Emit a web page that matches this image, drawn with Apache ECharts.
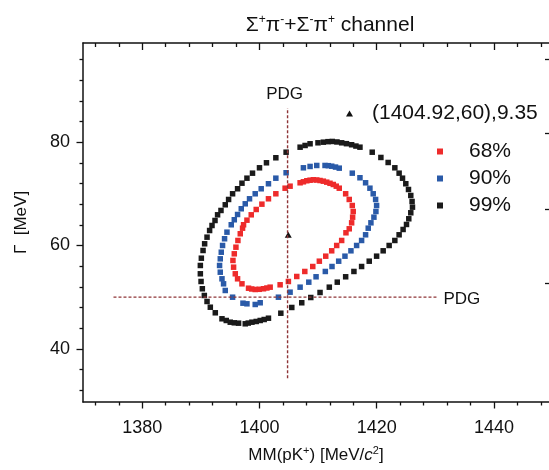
<!DOCTYPE html>
<html>
<head>
<meta charset="utf-8">
<title>Sigma pi channel contours</title>
<script src="https://cdn.jsdelivr.net/npm/echarts@6.0.0/dist/echarts.min.js"></script>
<style>
  html, body { margin: 0; padding: 0; background: #fff; }
  #main { width: 549px; height: 470px; }
</style>
</head>
<body>
<div id="main"></div>
<script>
  var xMin = 1369.9, xMax = 1449.4;
  var yMin = 29.7, yMax = 99.2;
  var xMajor = [1380, 1400, 1420, 1440];
  var xMinor = [1372, 1376, 1384, 1388, 1392, 1396, 1404, 1408, 1412, 1416, 1424, 1428, 1432, 1436, 1444, 1448];
  var yMajor = [40, 60, 80];
  var yMinor = [32, 36, 44, 48, 52, 56, 64, 68, 72, 76, 84, 88, 92, 96];
  var yRightTicks = [52.6, 67.1, 81.8, 96.1];

  // contour points [MeV/c^2, MeV]
  var cl68 = [
    [1404.38, 71.09], [1405.23, 71.48], [1406.94, 72.14], [1407.5, 72.33], [1408.08, 72.53], [1408.64, 72.64],
    [1409.2, 72.72], [1409.78, 72.68], [1410.34, 72.58], [1410.9, 72.45], [1411.48, 72.26], [1412.04, 72.04],
    [1412.6, 71.81], [1413.11, 71.48], [1413.62, 71.09], [1414.71, 70.01], [1415.32, 68.91], [1415.84, 67.74],
    [1416.0, 66.58], [1415.9, 65.48], [1415.73, 64.39], [1415.32, 63.23], [1414.76, 62.46], [1414.03, 60.97],
    [1413.18, 60.0], [1412.33, 58.97], [1411.31, 57.93], [1410.22, 56.96], [1409.1, 55.93], [1407.74, 54.97],
    [1406.37, 54.0], [1404.94, 53.03], [1403.53, 52.39], [1401.83, 51.93], [1401.27, 51.77], [1400.69, 51.62],
    [1399.96, 51.52], [1399.28, 51.48], [1398.68, 51.58], [1398.14, 51.73], [1397.02, 52.58], [1396.27, 53.55],
    [1395.88, 54.52], [1395.59, 55.8], [1395.48, 57.1], [1395.71, 58.39], [1395.99, 59.67], [1396.33, 60.97],
    [1396.73, 62.27], [1397.12, 63.35], [1397.29, 64.01], [1397.87, 64.9], [1398.6, 65.94], [1399.45, 66.97],
    [1400.42, 68.0], [1401.54, 69.04], [1402.8, 70.01]
  ];
  var cl90 = [
    [1404.55, 74.08], [1407.5, 75.04], [1408.64, 75.3], [1409.78, 75.49], [1411.19, 75.49], [1411.75, 75.45],
    [1412.33, 75.35], [1412.98, 75.18], [1413.62, 74.97], [1415.84, 74.0], [1417.15, 73.11], [1418.11, 72.14],
    [1418.85, 71.09], [1419.41, 70.01], [1419.82, 68.91], [1419.99, 67.74], [1419.87, 66.58], [1419.53, 65.48],
    [1419.02, 64.39], [1418.56, 63.35], [1418.11, 62.07], [1417.43, 60.97], [1416.58, 60.0], [1415.61, 58.97],
    [1414.59, 57.93], [1413.52, 56.96], [1412.38, 55.93], [1411.24, 54.97], [1409.66, 53.94], [1408.42, 52.9],
    [1406.94, 51.93], [1405.23, 50.96], [1403.24, 49.99], [1400.13, 48.91], [1399.28, 48.58], [1397.87, 48.71],
    [1397.19, 48.83], [1395.42, 49.99], [1394.17, 51.29], [1393.88, 52.58], [1393.61, 53.55], [1393.32, 54.83],
    [1393.2, 56.13], [1393.32, 57.42], [1393.49, 58.7], [1393.71, 60.0], [1394.05, 61.3], [1394.46, 62.58],
    [1395.19, 64.01], [1395.71, 64.98], [1396.27, 66.0], [1396.9, 67.11], [1397.58, 68.07], [1398.31, 69.04],
    [1399.28, 70.01], [1400.3, 70.98], [1401.54, 71.95], [1402.8, 73.03]
  ];
  var cl99 = [
    [1404.55, 78.06], [1406.94, 79.03], [1407.79, 79.36], [1408.64, 79.69], [1409.99, 79.88], [1410.9, 80.0],
    [1411.7, 80.1], [1412.43, 80.14], [1413.23, 80.04], [1414.03, 79.88], [1414.85, 79.71], [1415.73, 79.5],
    [1416.46, 79.25], [1417.15, 79.03], [1419.24, 78.06], [1420.72, 77.04], [1421.96, 76.07], [1423.1, 75.04],
    [1423.83, 74.0], [1424.41, 73.03], [1424.97, 71.95], [1425.43, 70.84], [1425.82, 69.68], [1426.04, 68.52],
    [1426.11, 67.42], [1425.82, 66.33], [1425.48, 65.17], [1425.09, 64.07], [1424.51, 63.1], [1423.83, 62.07],
    [1423.1, 60.97], [1422.13, 60.0], [1421.11, 58.97], [1419.99, 57.93], [1418.73, 56.96], [1417.43, 55.93],
    [1416.12, 54.97], [1414.71, 53.94], [1413.28, 52.9], [1411.92, 51.93], [1410.34, 50.9], [1408.76, 49.93],
    [1407.22, 48.91], [1405.52, 48.0], [1403.65, 46.89], [1401.54, 45.92], [1400.81, 45.67], [1400.13, 45.48],
    [1399.45, 45.29], [1398.72, 45.15], [1398.09, 44.98], [1397.58, 44.84], [1396.44, 44.96], [1395.71, 45.03],
    [1395.02, 45.15], [1394.34, 45.48], [1393.61, 45.81], [1392.47, 46.97], [1391.62, 48.05], [1391.06, 49.16],
    [1390.6, 50.32], [1390.26, 51.62], [1390.04, 53.03], [1389.92, 54.52], [1389.92, 56.13], [1390.09, 57.54],
    [1390.38, 59.03], [1390.65, 60.33], [1391.06, 61.61], [1391.5, 62.9], [1391.91, 63.87], [1392.42, 64.84],
    [1392.86, 65.94], [1393.44, 66.78], [1394.17, 67.88], [1394.74, 68.91], [1395.42, 70.01], [1396.27, 70.98],
    [1397.02, 72.06], [1397.87, 73.03], [1398.82, 74.0], [1400.01, 75.04], [1401.2, 76.01], [1402.8, 76.98]
  ];
  var bestFit = [[1404.92, 62.1]];
  var pdgMassLine = [[1404.8, 34.3], [1404.8, 86.6]];
  var pdgWidthLine = [[1375.1, 50], [1430.2, 50]];

  var font = 'Liberation Sans, Arial, Helvetica, sans-serif';
  var ink = '#111111';
  var pdgColor = '#8e3436';

  var chart = echarts.init(document.getElementById('main'));

  function tickAxis(pos, isX, values, len, inside, extra) {
    var ax = {
      type: 'value', position: pos, gridIndex: 0,
      min: isX ? xMin : yMin, max: isX ? xMax : yMax,
      axisLine: { show: false },
      axisTick: { show: true, inside: inside, length: len, customValues: values, lineStyle: { color: ink, width: 1.3 } },
      axisLabel: { show: false },
      splitLine: { show: false }
    };
    return Object.assign(ax, extra || {});
  }

  var option = {
    animation: false,
    textStyle: { fontFamily: font, color: ink },
    title: {
      text: '{a|Σ}{s|+}{a|π}{s|-}{a|+Σ}{s|-}{a|π}{s|+}{a| channel}',
      left: 325, top: 9, textAlign: 'center',
      textStyle: {
        fontWeight: 'normal',
        rich: {
          a: { fontSize: 21, fontWeight: 'normal', fontFamily: font, color: ink, lineHeight: 22 },
          s: { fontSize: 12, fontWeight: 'normal', fontFamily: font, color: ink, lineHeight: 16, verticalAlign: 'top' }
        }
      }
    },
    grid: { left: 83, top: 43, width: 467, height: 359, containLabel: false },
    legend: [
      {
        data: ['(1404.92,60),9.35'], left: 346, top: 103, padding: 0,
        itemWidth: 7, itemHeight: 6, selectedMode: false,
        textStyle: { fontSize: 21, fontFamily: font, color: ink, lineHeight: 21, padding: [0, 0, 0, 14] }
      },
      {
        data: ['68%', '90%', '99%'], orient: 'vertical', left: 437, top: 141, padding: 0,
        itemWidth: 6, itemHeight: 6, itemGap: 6, selectedMode: false,
        textStyle: { fontSize: 21, fontFamily: font, color: ink, lineHeight: 21, padding: [0, 0, 0, 21] }
      }
    ],
    xAxis: [
      {
        type: 'value', position: 'bottom', min: xMin, max: xMax,
        name: '{a|MM(pK}{s|+}{a|) [MeV/}{i|c}{s|2}{a|]}',
        nameLocation: 'middle', nameGap: 43,
        nameTextStyle: {
          rich: {
            a: { fontSize: 17, fontFamily: font, color: ink, lineHeight: 20 },
            i: { fontSize: 17, fontFamily: font, fontStyle: 'italic', color: ink, lineHeight: 20 },
            s: { fontSize: 11, fontFamily: font, color: ink, lineHeight: 12, verticalAlign: 'top' }
          }
        },
        axisLine: { show: true, lineStyle: { color: ink, width: 1.5 } },
        axisTick: { show: true, length: 6.5, customValues: xMajor, lineStyle: { color: ink, width: 1.3 } },
        axisLabel: {
          show: true, customValues: xMajor, fontSize: 18, color: ink, margin: 17, fontFamily: font,
          formatter: function (v) { return String(v); }
        },
        splitLine: { show: false }
      },
      tickAxis('bottom', true, xMinor, 3.5, false),
      tickAxis('top', true, xMajor, 7, true, { axisLine: { show: true, lineStyle: { color: ink, width: 1.5 } } }),
      tickAxis('top', true, xMinor, 4, true)
    ],
    yAxis: [
      {
        type: 'value', position: 'left', min: yMin, max: yMax,
        name: 'Γ  [MeV]', nameLocation: 'middle', nameGap: 53,
        nameTextStyle: { fontSize: 17, fontFamily: font, color: ink },
        axisLine: { show: true, lineStyle: { color: ink, width: 1.5 } },
        axisTick: { show: true, length: 6.5, customValues: yMajor, lineStyle: { color: ink, width: 1.3 } },
        axisLabel: {
          show: true, customValues: yMajor, fontSize: 18, color: ink, margin: 13, fontFamily: font,
          formatter: function (v) { return String(v); }
        },
        splitLine: { show: false }
      },
      tickAxis('left', false, yMinor, 3.5, false),
      tickAxis('right', false, yRightTicks, 4, true)
    ],
    series: [
      {
        name: 'PDG mass', type: 'line', data: pdgMassLine, showSymbol: false, silent: true,
        lineStyle: { color: pdgColor, width: 1.4, type: [3, 2], opacity: 1 },
        markPoint: {
          symbol: 'circle', symbolSize: 0, silent: true,
          data: [{ coord: [1404.8, 86.6] }],
          label: { show: true, position: 'top', distance: 5, offset: [-3, 0], formatter: 'PDG', fontSize: 17, color: ink, fontFamily: font }
        }
      },
      {
        name: 'PDG width', type: 'line', data: pdgWidthLine, showSymbol: false, silent: true,
        lineStyle: { color: pdgColor, width: 1.4, type: [3, 2], opacity: 1 },
        markPoint: {
          symbol: 'circle', symbolSize: 0, silent: true,
          data: [{ coord: [1430.2, 50] }],
          label: { show: true, position: 'right', distance: 7, offset: [0, 2], formatter: 'PDG', fontSize: 17, color: ink, fontFamily: font }
        }
      },
      { name: '68%', type: 'scatter', data: cl68, symbol: 'rect', symbolSize: 5.5, itemStyle: { color: '#ee2b2b', opacity: 1 } },
      { name: '90%', type: 'scatter', data: cl90, symbol: 'rect', symbolSize: 5.5, itemStyle: { color: '#2a5aa8', opacity: 1 } },
      { name: '99%', type: 'scatter', data: cl99, symbol: 'rect', symbolSize: 5.5, itemStyle: { color: '#1a1a1a', opacity: 1 } },
      { name: '(1404.92,60),9.35', type: 'scatter', data: bestFit, symbol: 'triangle', symbolSize: [7, 6], itemStyle: { color: ink, opacity: 1 } }
    ]
  };

  chart.setOption(option);
</script>
</body>
</html>
